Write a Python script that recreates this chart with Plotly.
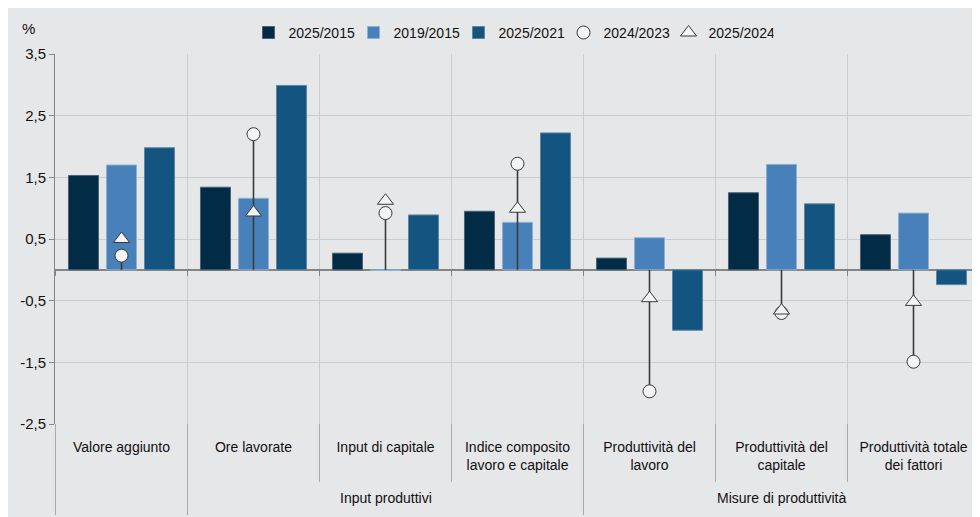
import plotly.graph_objects as go

categories = ["Valore aggiunto", "Ore lavorate", "Input di capitale",
              "Indice composito lavoro e capitale", "Produttività del lavoro",
              "Produttività del capitale", "Produttività totale dei fattori"]
category_labels = ["Valore aggiunto", "Ore lavorate", "Input di capitale",
                   "Indice composito<br>lavoro e capitale", "Produttività del<br>lavoro",
                   "Produttività del<br>capitale", "Produttività totale<br>dei fattori"]
groups = ["", "Input produttivi", "Input produttivi", "Input produttivi",
          "Misure di produttività", "Misure di produttività", "Misure di produttività"]

s_2025_2015 = [1.53, 1.34, 0.27, 0.95, 0.19, 1.25, 0.57]
s_2019_2015 = [1.70, 1.16, -0.01, 0.77, 0.52, 1.71, 0.92]
s_2025_2021 = [1.98, 2.99, 0.89, 2.22, -0.98, 1.07, -0.24]
s_2024_2023 = [0.23, 2.20, 0.92, 1.72, -1.97, -0.70, -1.49]
s_2025_2024 = [0.50, 0.93, 1.12, 0.99, -0.46, -0.66, -0.52]

y_tick_values = [-2.5, -1.5, -0.5, 0.5, 1.5, 2.5, 3.5]
y_tick_labels = ["-2,5", "-1,5", "-0,5", "0,5", "1,5", "2,5", "3,5"]

FONT = "Liberation Sans, Arial, sans-serif"
FS = 14
BG = "#E6E7E9"
GRID = "#CBCCCE"
DIV = "#A9A9AB"
AXIS = "#858585"
TXT = "#111111"

fig = go.Figure()
bar_specs = [("2025/2015", s_2025_2015, "#022B45", "#4A6376"),
             ("2019/2015", s_2019_2015, "#4880B9", "#8FB0D3"),
             ("2025/2021", s_2025_2021, "#135580", "#5F86A3")]
for name, vals, col, edge in bar_specs:
    fig.add_trace(go.Bar(x=categories, y=vals, name=name,
                         marker=dict(color=col, line=dict(color=edge, width=1))))

fig.add_trace(go.Scatter(
    x=categories, y=s_2024_2023, name="2024/2023", mode="markers",
    marker=dict(symbol="circle", size=13, color="#F4F4F4",
                line=dict(color="#3A3A3A", width=1)),
    error_y=dict(type="data", symmetric=False,
                 array=[max(-v, 0) for v in s_2024_2023],
                 arrayminus=[max(v, 0) for v in s_2024_2023],
                 width=0, thickness=1.6, color="#3A3A3A")))
fig.add_trace(go.Scatter(
    x=categories, y=s_2025_2024, name="2025/2024", mode="markers",
    marker=dict(symbol="triangle-up", size=14, color="#F4F4F4",
                line=dict(color="#3A3A3A", width=1))))

shapes = []
# small ticks on the zero line at category boundaries
for i in range(len(categories) + 1):
    shapes.append(dict(type="line", xref="x", yref="y", x0=i - 0.5, x1=i - 0.5,
                       ysizemode="pixel", yanchor=0, y0=0, y1=-6,
                       line=dict(color=AXIS, width=1)))
# dividers in the label area
for i in range(1, len(categories)):
    is_group_edge = groups[i] != groups[i - 1]
    shapes.append(dict(type="line", xref="x", yref="paper", x0=i - 0.5, x1=i - 0.5,
                       y0=0, y1=-0.246 if is_group_edge else -0.157,
                       line=dict(color=DIV, width=1)))
shapes.append(dict(type="line", xref="x", yref="paper", x0=-0.5, x1=-0.5,
                   y0=0, y1=-0.246, line=dict(color=DIV, width=1)))

annotations = [dict(text="%", xref="paper", yref="paper", x=0, y=1,
                    xanchor="center", yanchor="middle", xshift=-27, yshift=26,
                    showarrow=False, font=dict(size=15, color=TXT, family=FONT))]
seen = []
for g in groups:
    if g and g not in seen:
        seen.append(g)
for g in seen:
    idx = [i for i, gg in enumerate(groups) if gg == g]
    annotations.append(dict(text=g, xref="x", yref="paper", x=sum(idx) / len(idx),
                            y=-0.2, xanchor="center", yanchor="middle", showarrow=False,
                            font=dict(size=FS, color=TXT, family=FONT)))

fig.update_layout(
    width=980, height=517,
    margin=dict(l=47, r=8, t=46, b=101),
    paper_bgcolor=BG, plot_bgcolor=BG,
    font=dict(family=FONT, size=FS, color=TXT),
    barmode="group", bargap=0.136, bargroupgap=0.21,
    showlegend=True,
    legend=dict(orientation="h", x=0.493, xanchor="center", y=1.057, yanchor="middle",
                bgcolor="rgba(0,0,0,0)", font=dict(size=FS), traceorder="normal",
                itemwidth=30, entrywidth=60, entrywidthmode="pixels"),
    shapes=shapes, annotations=annotations,
    xaxis=dict(type="category", tickvals=categories, ticktext=category_labels,
               tickangle=0, automargin=False, ticklabelstandoff=13,
               tickson="boundaries", showgrid=True, gridcolor=GRID, gridwidth=1,
               ticks="outside", ticklen=12, tickcolor=DIV, showline=False,
               zeroline=False, fixedrange=True),
    yaxis=dict(range=[-2.5, 3.5], tickvals=y_tick_values, ticktext=y_tick_labels,
               automargin=False, tickfont=dict(size=15),
               showgrid=True, gridcolor=GRID, gridwidth=1,
               showline=True, linecolor=AXIS, linewidth=1,
               ticks="outside", ticklen=5, tickcolor=AXIS,
               zeroline=True, zerolinecolor=AXIS, zerolinewidth=1.5),
)

fig.write_html("out.html")
